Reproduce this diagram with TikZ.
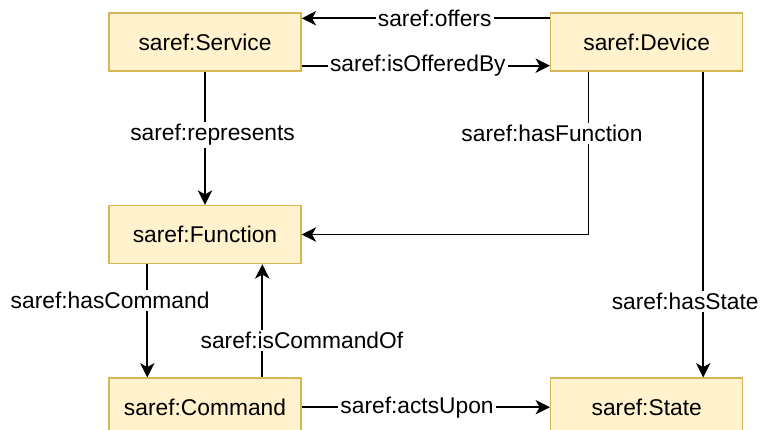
\documentclass[tikz,border=0pt]{standalone}
\usepackage{fontspec}
\setmainfont{Liberation Sans}
\usetikzlibrary{arrows.meta}
\definecolor{boxfill}{HTML}{FFF2CC}
\definecolor{boxline}{HTML}{D6B656}
\begin{document}
\begin{tikzpicture}[>={Stealth[length=0.36cm,width=0.36cm,inset=0.1cm]},x=1cm,y=1cm,
	box/.style={draw=boxline,fill=boxfill,line width=1pt,minimum width=4.8cm,minimum height=1.45cm,inner sep=0pt},
	lbl/.style={fill=white,inner sep=1.5pt},
	font=\fontsize{16.2}{19}\selectfont]
		\useasboundingbox (0,0) rectangle (19.075,-10.75);
		\node[box] (Service) at (5.125,-1.05) {saref:Service};
		\node[box] (Device) at (16.167,-1.05) {saref:Device};
		\node[box] (Function) at (5.125,-5.8625) {saref:Function};
		\node[box] (Command) at (5.125,-10.18) {saref:Command};
		\node[box] (State) at (16.167,-10.18) {saref:State};
		\draw[->,line width=1.2pt] ([yshift=-0.15cm]Device.north west) --%
		node[lbl,xshift=0.22cm]{saref:offers} ([yshift=-0.15cm]Service.north east);
		\draw[->,line width=1.2pt] ([yshift=0.15cm]Service.south east) --%
		node[lbl,xshift=-0.2cm]{saref:isOfferedBy} ([yshift=0.15cm]Device.south west);
		\draw[->,line width=1.2pt] (Service.south) --%
		node[lbl,xshift=0.19cm,yshift=0.08cm]{saref:represents} (Function.north);
		\draw[->,line width=1.2pt] ([xshift=0.96cm]Device.south west) |-%
		node[lbl,pos=0.19,xshift=-0.91cm]{saref:hasFunction} (Function.east);
		\draw[->,line width=1.2pt] ([xshift=3.83cm]Device.south west) --%
		node[lbl,pos=0.75,xshift=-0.45cm]{saref:hasState} ([xshift=3.83cm]State.north west);
		\draw[->,line width=1.2pt] ([xshift=0.975cm]Function.south west) --%
		node[lbl,pos=0.32,xshift=-0.93cm]{saref:hasCommand} ([xshift=0.975cm]Command.north west);
		\draw[->,line width=1.2pt] ([xshift=3.85cm]Command.north west) --%
		node[lbl,pos=0.33,xshift=0.99cm]{saref:isCommandOf} ([xshift=3.85cm]Function.south west);
		\draw[->,line width=1.2pt] (Command.east) --%
		node[lbl,xshift=-0.22cm]{saref:actsUpon} (State.west);
\end{tikzpicture}
\end{document}
